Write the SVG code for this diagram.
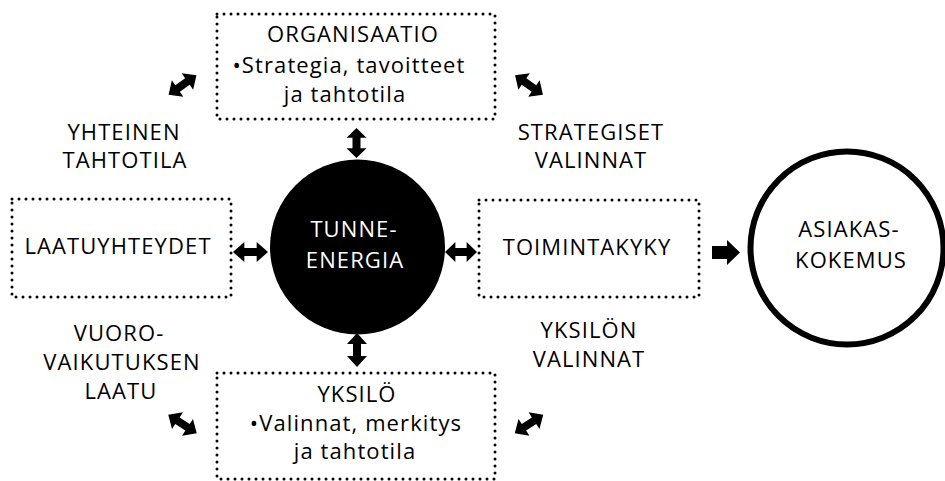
<svg xmlns="http://www.w3.org/2000/svg" width="945" height="481" viewBox="0 0 945 481">
<style>
.box{fill:#fff;stroke:#000;stroke-width:3;stroke-dasharray:0 7;stroke-linecap:round}
.t{font-family:"Open Sans","Liberation Sans",sans-serif;font-size:22px;letter-spacing:1.1px;fill:#000;text-anchor:middle}
.tw{fill:#fff}
.arr{fill:#000}
</style>
<defs>
<path id="dbl" d="M-17,0 L-6,-10 L-6,-4 L6,-4 L6,-10 L17,0 L6,10 L6,4 L-6,4 L-6,10 Z"/>
</defs>
<rect width="945" height="481" fill="#fff"/>
<g id="organisaatio">
<rect class="box" x="217" y="14" width="278" height="105"/>
<text class="t" x="353" y="42">ORGANISAATIO</text>
<text class="t" x="349" y="73">•Strategia, tavoitteet</text>
<text class="t" x="345" y="102">ja tahtotila</text>
</g>
<g id="laatuyhteydet">
<rect class="box" x="12" y="199" width="219" height="98"/>
<text class="t" x="118" y="254">LAATUYHTEYDET</text>
</g>
<g id="tunne-energia">
<circle cx="357.5" cy="247" r="87.5" fill="#000"/>
<text class="t tw" x="354" y="237">TUNNE-</text>
<text class="t tw" x="355" y="268">ENERGIA</text>
</g>
<g id="toimintakyky">
<rect class="box" x="479" y="200" width="220" height="97"/>
<text class="t" x="587" y="255">TOIMINTAKYKY</text>
</g>
<g id="yksilo">
<rect class="box" x="217" y="373" width="278" height="106"/>
<text class="t" x="357" y="402">YKSILÖ</text>
<text class="t" x="356" y="431">•Valinnat, merkitys</text>
<text class="t" x="355" y="459">ja tahtotila</text>
</g>
<g id="asiakaskokemus">
<circle cx="847" cy="248" r="96.5" fill="#fff" stroke="#000" stroke-width="6"/>
<text class="t" x="849" y="237">ASIAKAS-</text>
<text class="t" x="851" y="268">KOKEMUS</text>
</g>
<g id="labels">
<text class="t" x="124" y="140">YHTEINEN</text>
<text class="t" x="125" y="168">TAHTOTILA</text>
<text class="t" x="591" y="140">STRATEGISET</text>
<text class="t" x="591" y="168">VALINNAT</text>
<text class="t" x="119" y="341">VUORO-</text>
<text class="t" x="122" y="370">VAIKUTUKSEN</text>
<text class="t" x="121" y="399">LAATU</text>
<text class="t" x="589" y="338">YKSILÖN</text>
<text class="t" x="589" y="367">VALINNAT</text>
</g>
<g id="connectors" class="arr">
<use href="#dbl" transform="translate(250.5,252) scale(1.03,1)"/>
<use href="#dbl" transform="translate(461,252) scale(0.94,1)"/>
<use href="#dbl" transform="translate(356.5,143) rotate(90) scale(0.88,1)"/>
<use href="#dbl" transform="translate(357,350) rotate(90)"/>
<use href="#dbl" transform="translate(182.5,85) rotate(-35)"/>
<use href="#dbl" transform="translate(529,85) rotate(35)"/>
<use href="#dbl" transform="translate(182.5,424) rotate(33)"/>
<use href="#dbl" transform="translate(529,424) rotate(-33)"/>
<path d="M712,246 L727,246 L727,240 L740,252.5 L727,265 L727,259 L712,259 Z"/>
</g>
</svg>
